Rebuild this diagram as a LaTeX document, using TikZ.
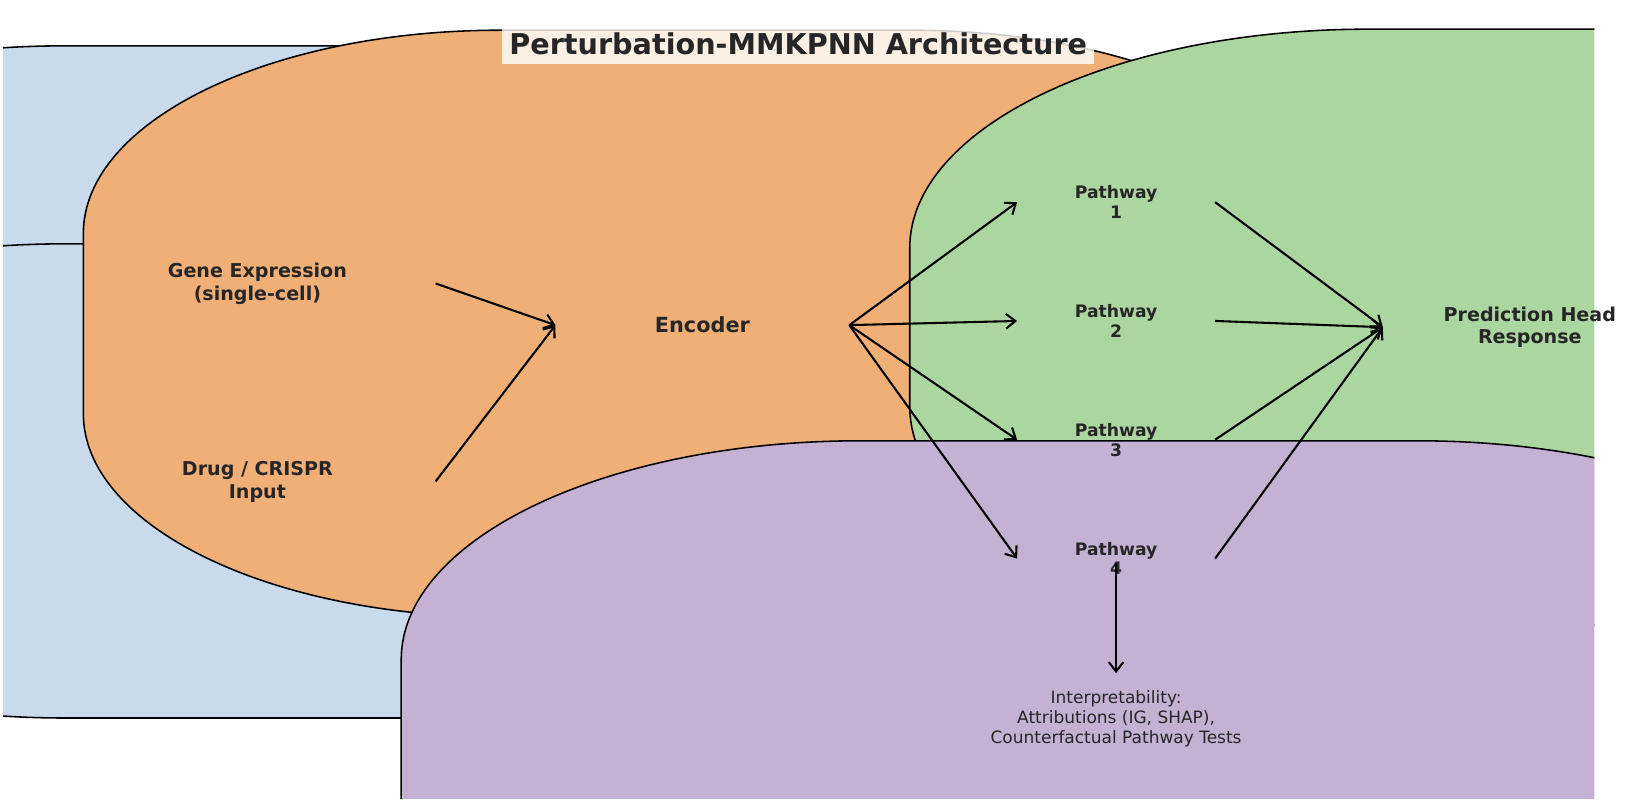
\documentclass[tikz,border=0pt]{standalone}
\usepackage{fontspec}
\setmainfont{DejaVu Sans}
\usepackage{xcolor}
\usepackage{tikz}
\usetikzlibrary{arrows.meta,positioning}
\definecolor{inblue}{HTML}{C9DAEC}
\definecolor{encorange}{HTML}{F0AF76}
\definecolor{pwgreen}{HTML}{ACD6A0}
\definecolor{xplpurple}{HTML}{C5B1D4}
\definecolor{ink}{HTML}{262626}
\newcommand{\layerbox}[7]{%
  \filldraw[fill=#5,line width=1.5pt] (#1+#6,#2) -- (#3-#6,#2)
    arc[start angle=-90,end angle=0,x radius=#6,y radius=#7] -- (#3,#4-#7)
    arc[start angle=0,end angle=90,x radius=#6,y radius=#7] -- (#1+#6,#4)
    arc[start angle=90,end angle=180,x radius=#6,y radius=#7] -- (#1,#2+#7)
    arc[start angle=180,end angle=270,x radius=#6,y radius=#7] -- cycle;}

\begin{document}
\begin{tikzpicture}[x=1pt,y=1pt,
  lab/.style={text=ink,font=\fontsize{18.3}{22}\selectfont\bfseries,align=center,inner sep=0pt,outer sep=0pt},
  pw/.style={lab,font=\fontsize{16.5}{19}\selectfont\bfseries,minimum width=190pt},
  arr/.style={-{Straight Barb[length=9pt,width=14pt]},line width=2pt,black}]
  \useasboundingbox (0,0) rectangle (1568,777);
  \begin{scope}
    \clip (3,11) rectangle (1530,777);
    \layerbox{-378}{277}{800}{733}{inblue}{440}{210}
    \layerbox{-378}{88}{900}{543}{inblue}{440}{210}
    \layerbox{80}{185}{1275}{748}{encorange}{400}{195}
    \layerbox{873}{177}{2000}{749}{pwgreen}{440}{210}
    \layerbox{385}{-230}{1800}{354}{xplpurple}{440}{210}
  \end{scope}
  \node[text=ink,font=\fontsize{27.5}{33}\selectfont\bfseries,fill=white,fill opacity=0.8,text opacity=1,
        inner xsep=7pt,inner ysep=9pt] (title) at (766,735) {Perturbation-MMKPNN Architecture};
  \node[lab,minimum width=342pt] (gene) at (247,505) {Gene Expression\\(single-cell)};
  \node[lab,minimum width=342pt] (drug) at (247,315) {Drug / CRISPR\\Input};
  \node[lab,font=\fontsize{20}{24}\selectfont\bfseries,minimum width=282pt] (enc) at (674,465) {Encoder};
  \foreach \i/\y in {1/583,2/469,3/355,4/241}
     \node[pw] (pw\i) at (1071,\y) {Pathway\\\i};
  \node[lab,minimum width=282pt] (head) at (1468,463) {Prediction Head\\Response};
  \node[lab,font=\fontsize{16.3}{19}\selectfont,minimum height=88pt] (interp) at (1071,87)
      {Interpretability:\\Attributions (IG, SHAP),\\Counterfactual Pathway Tests};
  \draw[arr] (gene.east) -- (enc.west);
  \draw[arr] (drug.east) -- (enc.west);
  \foreach \i in {1,...,4}{
     \draw[arr] (enc.east) -- (pw\i.west);
     \draw[arr] (pw\i.east) -- (head.west);
  }
  \draw[arr,shorten <=4pt] (pw4.center) -- (interp.north);
\end{tikzpicture}
\end{document}
